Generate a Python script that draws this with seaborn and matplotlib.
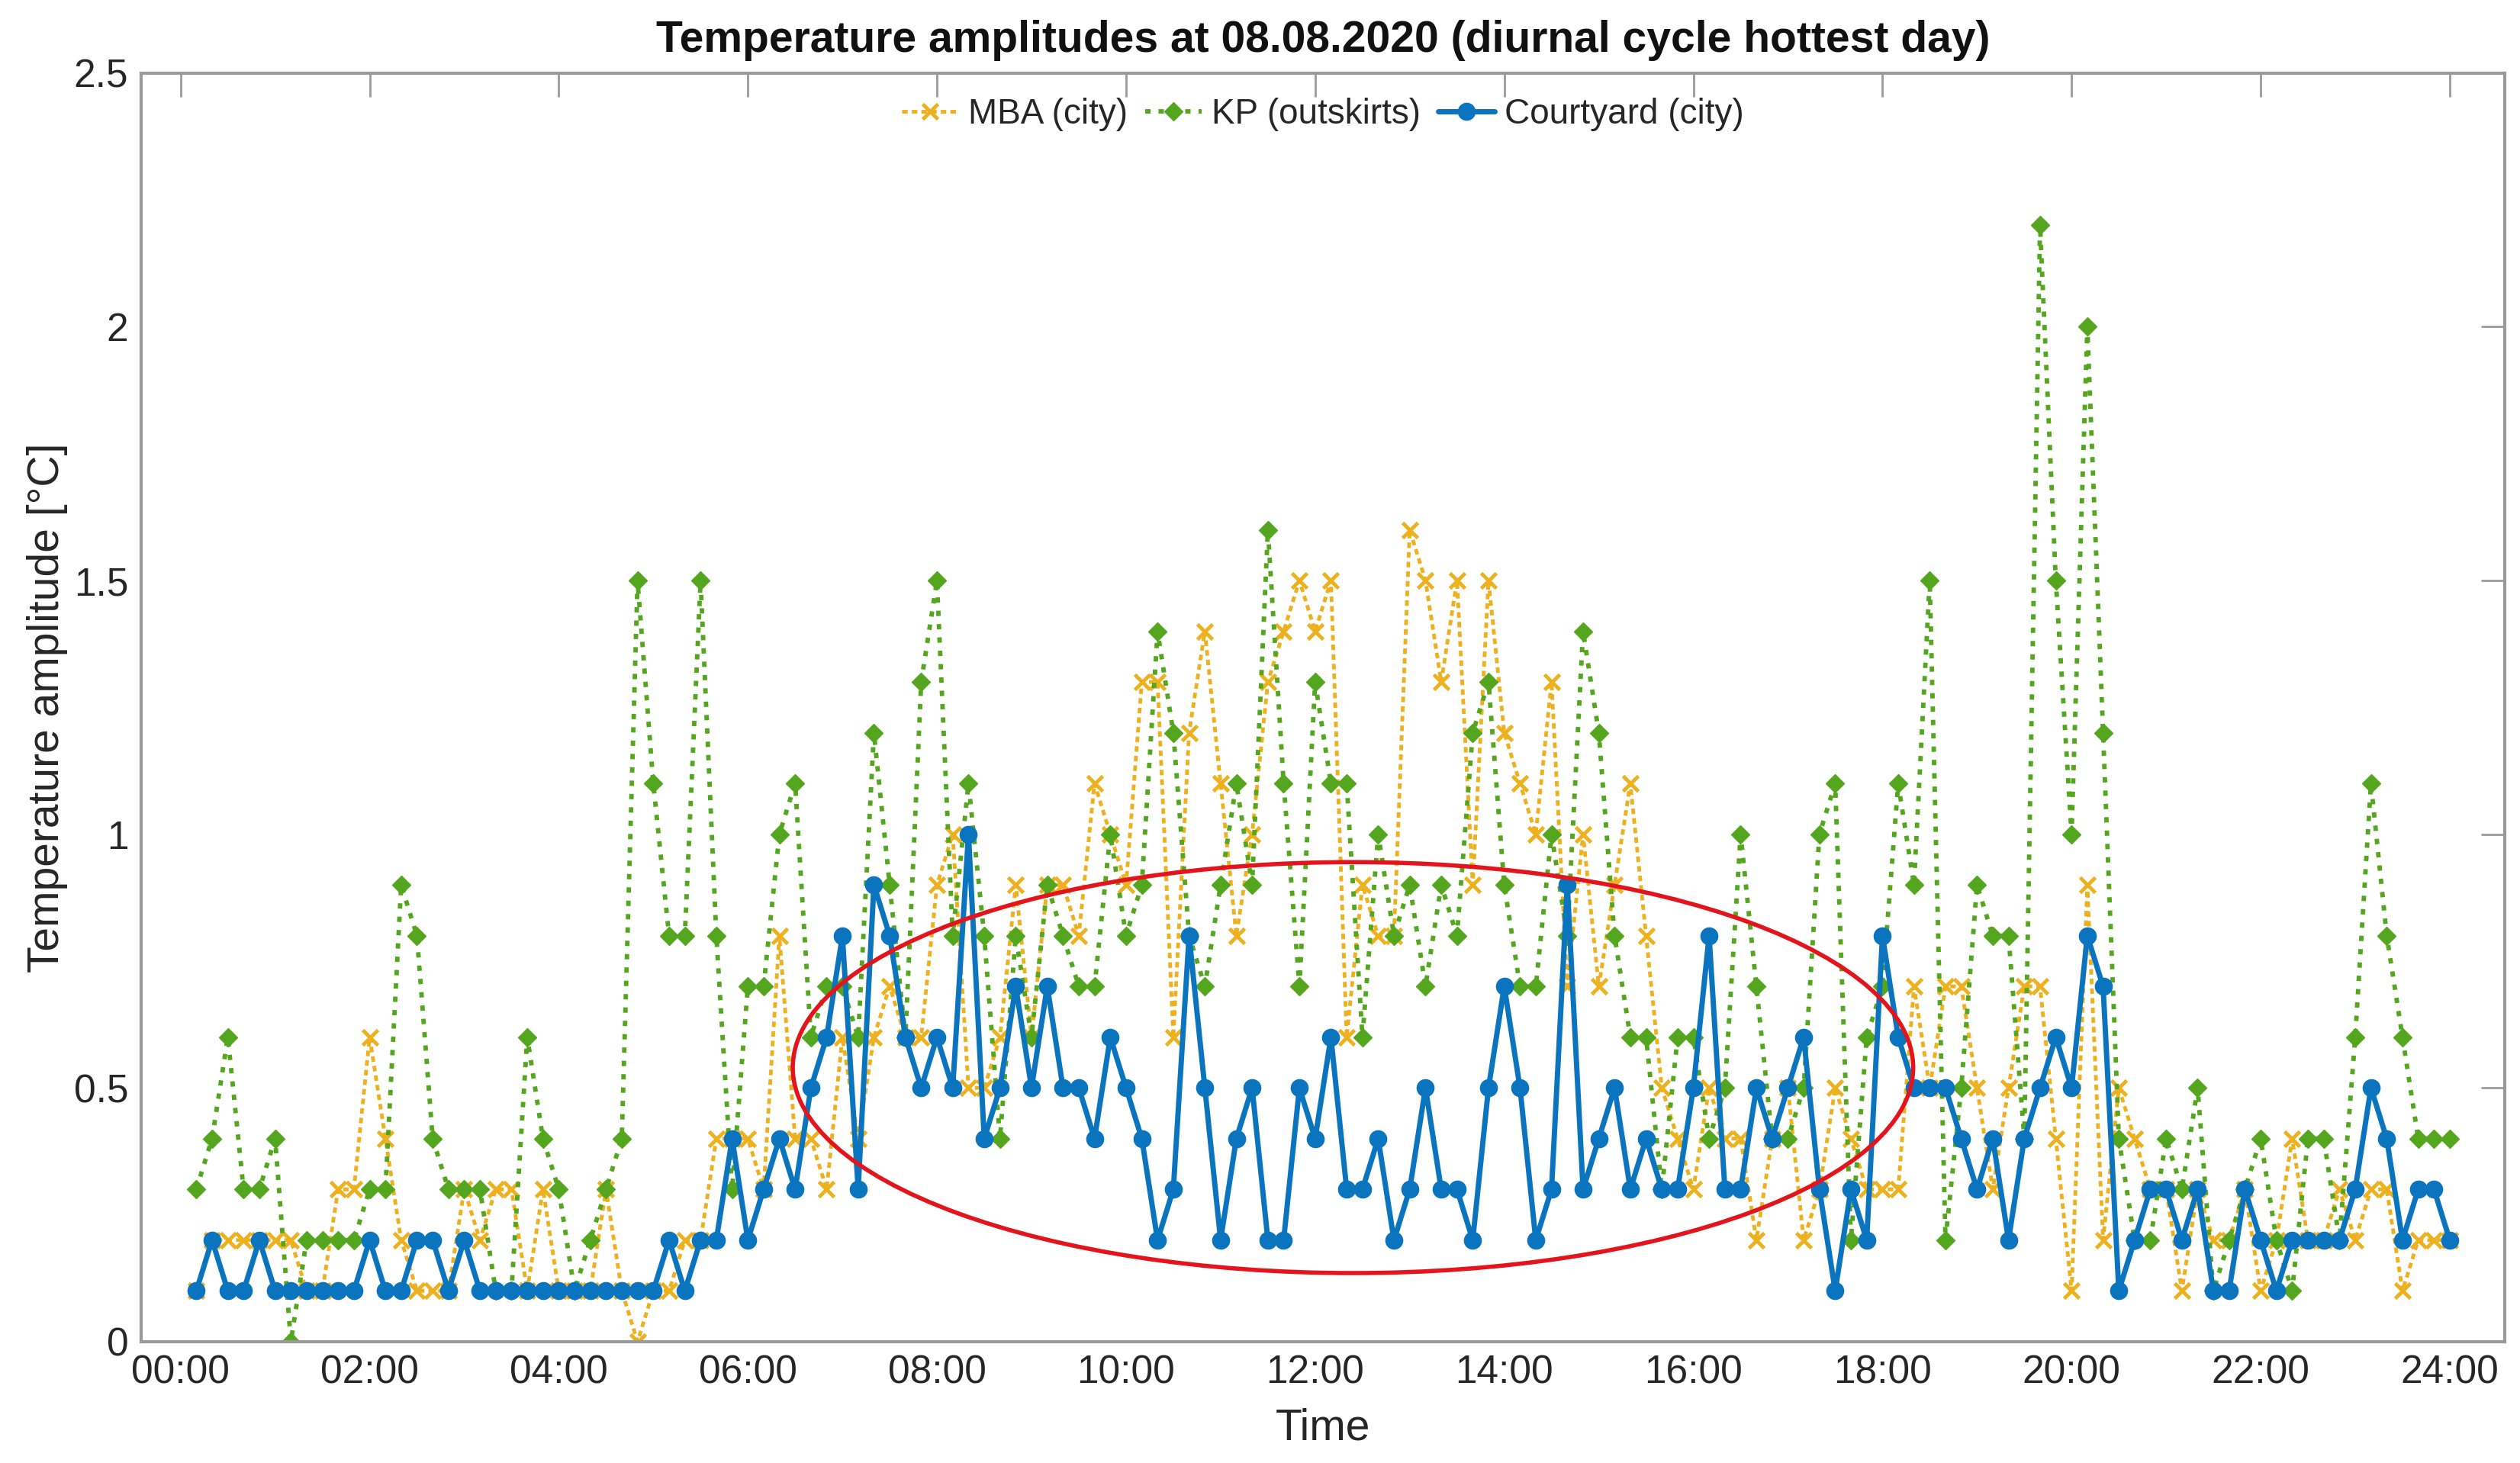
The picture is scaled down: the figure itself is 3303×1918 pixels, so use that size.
import numpy as np
import pandas as pd
import matplotlib
matplotlib.use("Agg")
import matplotlib.pyplot as plt
from matplotlib.patches import Ellipse
import seaborn as sns

# ── Temperature amplitudes [°C], 10-min steps 00:10 ... 24:00 (one row = one hour)
mba = [
    0.1, 0.2, 0.2, 0.2, 0.2, 0.2,
    0.2, 0.1, 0.1, 0.3, 0.3, 0.6,
    0.4, 0.2, 0.1, 0.1, 0.1, 0.3,
    0.2, 0.3, 0.3, 0.1, 0.3, 0.1,
    0.1, 0.1, 0.3, 0.1, 0.0, 0.1,
    0.1, 0.2, 0.2, 0.4, 0.4, 0.4,
    0.3, 0.8, 0.4, 0.4, 0.3, 0.6,
    0.4, 0.6, 0.7, 0.6, 0.6, 0.9,
    1.0, 0.5, 0.5, 0.6, 0.9, 0.6,
    0.9, 0.9, 0.8, 1.1, 1.0, 0.9,
    1.3, 1.3, 0.6, 1.2, 1.4, 1.1,
    0.8, 1.0, 1.3, 1.4, 1.5, 1.4,
    1.5, 0.6, 0.9, 0.8, 0.8, 1.6,
    1.5, 1.3, 1.5, 0.9, 1.5, 1.2,
    1.1, 1.0, 1.3, 0.7, 1.0, 0.7,
    0.9, 1.1, 0.8, 0.5, 0.4, 0.3,
    0.5, 0.4, 0.4, 0.2, 0.4, 0.5,
    0.2, 0.3, 0.5, 0.4, 0.3, 0.3,
    0.3, 0.7, 0.5, 0.7, 0.7, 0.5,
    0.3, 0.5, 0.7, 0.7, 0.4, 0.1,
    0.9, 0.2, 0.5, 0.4, 0.3, 0.3,
    0.1, 0.3, 0.2, 0.2, 0.3, 0.1,
    0.2, 0.4, 0.2, 0.2, 0.3, 0.2,
    0.3, 0.3, 0.1, 0.2, 0.2, 0.2,
]
kp = [
    0.3, 0.4, 0.6, 0.3, 0.3, 0.4,
    0.0, 0.2, 0.2, 0.2, 0.2, 0.3,
    0.3, 0.9, 0.8, 0.4, 0.3, 0.3,
    0.3, 0.1, 0.1, 0.6, 0.4, 0.3,
    0.1, 0.2, 0.3, 0.4, 1.5, 1.1,
    0.8, 0.8, 1.5, 0.8, 0.3, 0.7,
    0.7, 1.0, 1.1, 0.6, 0.7, 0.7,
    0.6, 1.2, 0.9, 0.6, 1.3, 1.5,
    0.8, 1.1, 0.8, 0.4, 0.8, 0.6,
    0.9, 0.8, 0.7, 0.7, 1.0, 0.8,
    0.9, 1.4, 1.2, 0.8, 0.7, 0.9,
    1.1, 0.9, 1.6, 1.1, 0.7, 1.3,
    1.1, 1.1, 0.6, 1.0, 0.8, 0.9,
    0.7, 0.9, 0.8, 1.2, 1.3, 0.9,
    0.7, 0.7, 1.0, 0.8, 1.4, 1.2,
    0.8, 0.6, 0.6, 0.3, 0.6, 0.6,
    0.4, 0.5, 1.0, 0.7, 0.4, 0.4,
    0.5, 1.0, 1.1, 0.2, 0.6, 0.7,
    1.1, 0.9, 1.5, 0.2, 0.5, 0.9,
    0.8, 0.8, 0.4, 2.2, 1.5, 1.0,
    2.0, 1.2, 0.4, 0.2, 0.2, 0.4,
    0.3, 0.5, 0.1, 0.2, 0.3, 0.4,
    0.2, 0.1, 0.4, 0.4, 0.2, 0.6,
    1.1, 0.8, 0.6, 0.4, 0.4, 0.4,
]
courtyard = [
    0.1, 0.2, 0.1, 0.1, 0.2, 0.1,
    0.1, 0.1, 0.1, 0.1, 0.1, 0.2,
    0.1, 0.1, 0.2, 0.2, 0.1, 0.2,
    0.1, 0.1, 0.1, 0.1, 0.1, 0.1,
    0.1, 0.1, 0.1, 0.1, 0.1, 0.1,
    0.2, 0.1, 0.2, 0.2, 0.4, 0.2,
    0.3, 0.4, 0.3, 0.5, 0.6, 0.8,
    0.3, 0.9, 0.8, 0.6, 0.5, 0.6,
    0.5, 1.0, 0.4, 0.5, 0.7, 0.5,
    0.7, 0.5, 0.5, 0.4, 0.6, 0.5,
    0.4, 0.2, 0.3, 0.8, 0.5, 0.2,
    0.4, 0.5, 0.2, 0.2, 0.5, 0.4,
    0.6, 0.3, 0.3, 0.4, 0.2, 0.3,
    0.5, 0.3, 0.3, 0.2, 0.5, 0.7,
    0.5, 0.2, 0.3, 0.9, 0.3, 0.4,
    0.5, 0.3, 0.4, 0.3, 0.3, 0.5,
    0.8, 0.3, 0.3, 0.5, 0.4, 0.5,
    0.6, 0.3, 0.1, 0.3, 0.2, 0.8,
    0.6, 0.5, 0.5, 0.5, 0.4, 0.3,
    0.4, 0.2, 0.4, 0.5, 0.6, 0.5,
    0.8, 0.7, 0.1, 0.2, 0.3, 0.3,
    0.2, 0.3, 0.1, 0.1, 0.3, 0.2,
    0.1, 0.2, 0.2, 0.2, 0.2, 0.3,
    0.5, 0.4, 0.2, 0.3, 0.3, 0.2,
]

series_names = ["MBA (city)", "KP (outskirts)", "Courtyard (city)"]
xtick_hours = [0, 2, 4, 6, 8, 10, 12, 14, 16, 18, 20, 22, 24]
xtick_labels = ["00:00", "02:00", "04:00", "06:00", "08:00", "10:00", "12:00",
                "14:00", "16:00", "18:00", "20:00", "22:00", "24:00"]
ytick_values = [0, 0.5, 1, 1.5, 2, 2.5]
ytick_labels = ["0", "0.5", "1", "1.5", "2", "2.5"]

hours = np.arange(1, len(courtyard) + 1) / 6.0   # 10-minute steps
df = pd.DataFrame({"hour": hours, "MBA": mba, "KP": kp, "Courtyard": courtyard})

# ── Style
sns.set_theme(style="white")
plt.rcParams["font.family"] = ["Liberation Sans", "DejaVu Sans"]
AX_GRAY = "#9a9a9a"
TXT = "#262626"
C_MBA, C_KP, C_CY = "#EDB120", "#55A61F", "#0A74BE"

fig = plt.figure(figsize=(33.03, 19.18), dpi=100)
ax = fig.add_axes([0.056, 0.083, 0.938, 0.867])

sns.lineplot(data=df, x="hour", y="MBA", ax=ax, color=C_MBA, lw=3.5,
             linestyle=(0, (1.5, 1.1)), marker="x", ms=15, mec=C_MBA, mew=3.5,
             label=series_names[0])
sns.lineplot(data=df, x="hour", y="KP", ax=ax, color=C_KP, lw=4.2,
             linestyle=(0, (1.2, 1.8)), marker="D", ms=12, mec=C_KP, mfc=C_KP,
             mew=1, label=series_names[1])
sns.lineplot(data=df, x="hour", y="Courtyard", ax=ax, color=C_CY, lw=5,
             linestyle="-", marker="o", ms=16, mec=C_CY, mfc=C_CY, mew=1,
             label=series_names[2])

# highlighted period
ax.add_patch(Ellipse((12.4, 0.54), 11.85, 0.81, fill=False,
                     edgecolor="#E3141B", lw=4, zorder=5))

ax.set_xlim(-0.417, 24.583)
ax.set_ylim(0, 2.5)
ax.set_xticks(xtick_hours)
ax.set_xticklabels(xtick_labels)
ax.set_yticks(ytick_values)
ax.set_yticklabels(ytick_labels)
ax.tick_params(direction="in", length=22, width=2, color=AX_GRAY,
               labelsize=37, labelcolor=TXT, top=True, right=True, pad=12)

for sp in ax.spines.values():
    sp.set_color(AX_GRAY)
    sp.set_linewidth(3)

ax.set_xlabel("Time", fontsize=41, color=TXT)
ax.set_ylabel("Temperature amplitude [°C]", fontsize=41, color=TXT)
ax.xaxis.set_label_coords(0.5, -0.052)
ax.yaxis.set_label_coords(-0.031, 0.5)
ax.set_title("Temperature amplitudes at 08.08.2020 (diurnal cycle hottest day)",
             fontsize=41, fontweight="bold", color="#111111", pad=20)

ax.legend(loc="upper center", bbox_to_anchor=(0.5, 1.0), ncol=3, frameon=False,
          fontsize=33, handlelength=1.6, handletextpad=0.3, columnspacing=0.5,
          borderaxespad=0.3)

fig.savefig("out.png", dpi=100)
